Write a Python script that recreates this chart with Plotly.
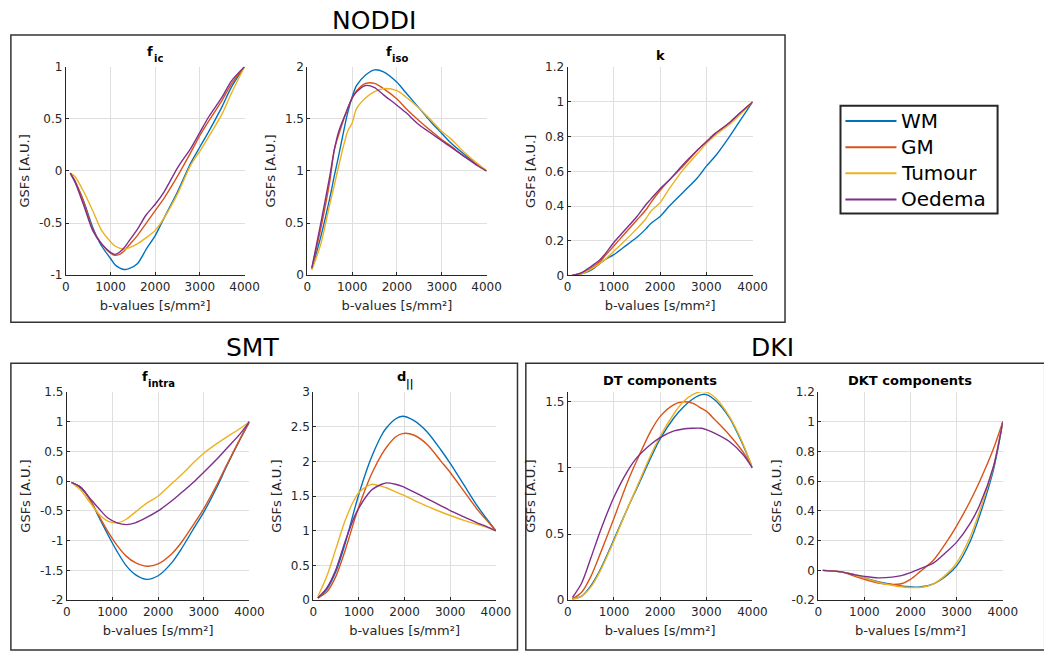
import plotly.graph_objects as go

W, H = 1044, 660
FONT = "DejaVu Sans"
TXT = "#262626"
COLORS = {"WM": "#0072BD", "GM": "#D95319", "Tumour": "#EDB120", "Oedema": "#7E2F8E"}
GROUPS = ["WM", "GM", "Tumour", "Oedema"]

# ---------------- data ----------------
b_fic = [100, 200, 400, 600, 800, 1000, 1100, 1200, 1300, 1400, 1600, 1800, 2000, 2200, 2500, 2800, 3000, 3200, 3500, 3700, 4000]
fic_wm = [-0.02, -0.1, -0.29, -0.54, -0.72, -0.84, -0.9, -0.93, -0.945, -0.94, -0.89, -0.75, -0.62, -0.45, -0.2, 0.08, 0.23, 0.38, 0.62, 0.8, 1.0]
fic_gm = [-0.02, -0.09, -0.3, -0.56, -0.7, -0.79, -0.81, -0.8, -0.77, -0.72, -0.62, -0.5, -0.38, -0.26, -0.05, 0.18, 0.34, 0.48, 0.68, 0.83, 1.0]
fic_tu = [-0.02, -0.05, -0.2, -0.38, -0.57, -0.68, -0.72, -0.74, -0.75, -0.74, -0.7, -0.64, -0.57, -0.45, -0.22, 0.06, 0.19, 0.33, 0.55, 0.74, 1.0]
fic_oe = [-0.02, -0.1, -0.33, -0.57, -0.7, -0.78, -0.8, -0.78, -0.74, -0.68, -0.56, -0.42, -0.32, -0.2, 0.03, 0.22, 0.37, 0.52, 0.71, 0.86, 1.0]

b_fiso = [100, 300, 500, 600, 700, 900, 1000, 1100, 1300, 1500, 1700, 2000, 2200, 2500, 2800, 3000, 3200, 3500, 3800, 4000]
fiso_wm = [0.06, 0.37, 0.74, 0.95, 1.15, 1.56, 1.71, 1.82, 1.92, 1.97, 1.95, 1.85, 1.75, 1.6, 1.45, 1.36, 1.27, 1.16, 1.06, 1.0]
fiso_gm = [0.07, 0.45, 0.9, 1.2, 1.35, 1.6, 1.7, 1.77, 1.84, 1.84, 1.79, 1.69, 1.6, 1.48, 1.37, 1.3, 1.24, 1.14, 1.06, 1.0]
fiso_tu = [0.05, 0.3, 0.68, 0.86, 1.05, 1.38, 1.46, 1.6, 1.7, 1.76, 1.79, 1.77, 1.71, 1.6, 1.47, 1.38, 1.31, 1.18, 1.07, 1.0]
fiso_oe = [0.07, 0.5, 0.95, 1.2, 1.38, 1.6, 1.7, 1.76, 1.82, 1.8, 1.73, 1.63, 1.56, 1.44, 1.35, 1.29, 1.23, 1.14, 1.05, 1.0]

b_k = [100, 300, 500, 700, 800, 1000, 1200, 1500, 1700, 1800, 2000, 2200, 2500, 2800, 3000, 3200, 3500, 3700, 4000]
k_wm = [0, 0.01, 0.03, 0.07, 0.09, 0.12, 0.16, 0.22, 0.27, 0.3, 0.34, 0.4, 0.48, 0.56, 0.63, 0.69, 0.8, 0.88, 1.0]
k_gm = [0, 0.015, 0.04, 0.08, 0.11, 0.17, 0.23, 0.32, 0.38, 0.42, 0.49, 0.55, 0.63, 0.72, 0.77, 0.82, 0.88, 0.93, 1.0]
k_tu = [0, 0.01, 0.035, 0.07, 0.09, 0.14, 0.19, 0.27, 0.33, 0.37, 0.42, 0.5, 0.61, 0.7, 0.76, 0.81, 0.87, 0.92, 1.0]
k_oe = [0, 0.015, 0.05, 0.09, 0.12, 0.19, 0.25, 0.34, 0.41, 0.44, 0.5, 0.55, 0.64, 0.72, 0.77, 0.82, 0.88, 0.93, 1.0]

b_fintra = [100, 300, 500, 700, 900, 1100, 1300, 1500, 1750, 2000, 2300, 2500, 2800, 3000, 3300, 3500, 3800, 4000]
fintra_wm = [-0.02, -0.11, -0.3, -0.6, -0.9, -1.18, -1.42, -1.57, -1.65, -1.59, -1.37, -1.15, -0.77, -0.52, -0.08, 0.25, 0.71, 1.0]
fintra_gm = [-0.02, -0.1, -0.3, -0.58, -0.85, -1.08, -1.26, -1.37, -1.43, -1.39, -1.22, -1.04, -0.7, -0.46, -0.04, 0.27, 0.72, 1.0]
fintra_tu = [-0.02, -0.15, -0.35, -0.55, -0.67, -0.7, -0.64, -0.52, -0.37, -0.25, -0.04, 0.1, 0.33, 0.47, 0.64, 0.74, 0.89, 1.0]
fintra_oe = [-0.02, -0.1, -0.28, -0.46, -0.62, -0.7, -0.73, -0.7, -0.61, -0.5, -0.33, -0.2, 0.0, 0.15, 0.38, 0.55, 0.8, 1.0]

b_dpar = [100, 300, 500, 700, 900, 1000, 1200, 1300, 1500, 1600, 1800, 1950, 2200, 2500, 2800, 3000, 3300, 3600, 3800, 4000]
dpar_wm = [0.03, 0.16, 0.42, 0.82, 1.3, 1.53, 1.93, 2.1, 2.38, 2.48, 2.61, 2.65, 2.59, 2.42, 2.16, 1.97, 1.66, 1.35, 1.17, 1.0]
dpar_gm = [0.03, 0.12, 0.35, 0.72, 1.15, 1.35, 1.7, 1.85, 2.1, 2.2, 2.35, 2.4, 2.38, 2.24, 2.0, 1.84, 1.57, 1.3, 1.15, 1.0]
dpar_tu = [0.05, 0.35, 0.75, 1.15, 1.45, 1.55, 1.65, 1.67, 1.64, 1.62, 1.56, 1.52, 1.44, 1.35, 1.27, 1.22, 1.15, 1.09, 1.05, 1.0]
dpar_oe = [0.03, 0.18, 0.45, 0.85, 1.2, 1.33, 1.53, 1.6, 1.67, 1.69, 1.67, 1.64, 1.56, 1.46, 1.36, 1.29, 1.2, 1.11, 1.06, 1.0]

b_dt = [100, 300, 500, 700, 1000, 1300, 1500, 1800, 2000, 2300, 2500, 2700, 2900, 3000, 3200, 3500, 3800, 4000]
dt_wm = [0.01, 0.03, 0.11, 0.23, 0.46, 0.7, 0.85, 1.08, 1.22, 1.38, 1.46, 1.52, 1.555, 1.555, 1.51, 1.38, 1.17, 1.0]
dt_gm = [0.01, 0.06, 0.18, 0.35, 0.62, 0.9, 1.06, 1.28, 1.39, 1.48, 1.5, 1.49, 1.45, 1.43, 1.36, 1.25, 1.12, 1.0]
dt_tu = [0.005, 0.03, 0.1, 0.22, 0.45, 0.7, 0.86, 1.1, 1.24, 1.41, 1.5, 1.555, 1.578, 1.575, 1.53, 1.39, 1.18, 1.0]
dt_oe = [0.02, 0.13, 0.32, 0.52, 0.78, 0.98, 1.08, 1.18, 1.23, 1.28, 1.295, 1.3, 1.3, 1.29, 1.26, 1.2, 1.1, 1.0]

b_dkt = [100, 500, 800, 1000, 1300, 1600, 1800, 2000, 2200, 2500, 2800, 3000, 3300, 3500, 3800, 4000]
dkt_wm = [0, -0.01, -0.03, -0.05, -0.075, -0.095, -0.105, -0.11, -0.112, -0.09, -0.03, 0.03, 0.2, 0.37, 0.68, 1.0]
dkt_gm = [0, -0.01, -0.04, -0.06, -0.085, -0.095, -0.09, -0.06, -0.01, 0.07, 0.2, 0.3, 0.47, 0.6, 0.82, 1.0]
dkt_tu = [0, -0.01, -0.03, -0.05, -0.08, -0.1, -0.11, -0.115, -0.115, -0.09, -0.02, 0.05, 0.23, 0.4, 0.7, 1.0]
dkt_oe = [0, -0.01, -0.03, -0.04, -0.05, -0.045, -0.035, -0.015, 0.01, 0.05, 0.13, 0.19, 0.32, 0.44, 0.7, 1.0]

x_ticks = [0, 1000, 2000, 3000, 4000]

# ---------------- layout helpers ----------------
def px_x(x):
    return x / W

def px_y(y):
    return 1 - y / H

# (b, series, title main, title subscript, x0, x1, ytop, ybot, yrange, yticks)
panels = [
    (b_fic, [fic_wm, fic_gm, fic_tu, fic_oe], "f", "ic", 63, 245, 61, 274, [-1, 1], [-1, -0.5, 0, 0.5, 1]),
    (b_fiso, [fiso_wm, fiso_gm, fiso_tu, fiso_oe], "f", "iso", 309, 491.5, 61, 274, [0, 2], [0, 0.5, 1, 1.5, 2]),
    (b_k, [k_wm, k_gm, k_tu, k_oe], "k", None, 574, 762.5, 61.5, 274.3, [0, 1.2], [0, 0.2, 0.4, 0.6, 0.8, 1, 1.2]),
    (b_fintra, [fintra_wm, fintra_gm, fintra_tu, fintra_oe], "f", "intra", 64, 250, 393.3, 606, [-2, 1.5], [-2, -1.5, -1, -0.5, 0, 0.5, 1, 1.5]),
    (b_dpar, [dpar_wm, dpar_gm, dpar_tu, dpar_oe], "d", "||", 315, 501, 393.3, 606, [0, 3], [0, 0.5, 1, 1.5, 2, 2.5, 3]),
    (b_dt, [dt_wm, dt_gm, dt_tu, dt_oe], "DT components", None, 574.3, 762.3, 393.3, 606, [0, 1.575], [0, 0.5, 1, 1.5]),
    (b_dkt, [dkt_wm, dkt_gm, dkt_tu, dkt_oe], "DKT components", None, 829.3, 1017.3, 393.3, 606, [-0.2, 1.2], [-0.2, 0, 0.2, 0.4, 0.6, 0.8, 1, 1.2]),
]

# approximate advance widths (em) of DejaVu Sans Bold glyphs, used to centre split titles
BOLD_EM = {"f": 0.435, "d": 0.716, "i": 0.343, "c": 0.593, "s": 0.595, "o": 0.687,
           "n": 0.712, "t": 0.478, "r": 0.493, "a": 0.675, "|": 0.366}
MAIN_FS, SUB_FS = 13, 10

def text_w(s, fs):
    return sum(BOLD_EM.get(ch, 0.6) for ch in s) * fs

def fmt(v):
    return "%g" % v

fig = go.Figure()
annotations = []
shapes = []
layout_axes = {}

for i, (b, series, tmain, tsub, x0, x1, yt, yb, yr, yticks) in enumerate(panels):
    n = "" if i == 0 else str(i + 1)
    xa, ya = "x" + n, "y" + n
    for g, ys in zip(GROUPS, series):
        fig.add_trace(go.Scatter(
            x=b, y=ys, mode="lines", name=g, legendgroup=g,
            showlegend=False, xaxis=xa, yaxis=ya,
            line=dict(color=COLORS[g], width=1.4, shape="spline", smoothing=0.8),
            hoverinfo="skip"))
    common = dict(showline=True, linecolor=TXT, linewidth=1, mirror=False,
                  showgrid=True, gridcolor="#dfdfdf", gridwidth=1,
                  ticks="inside", ticklen=3, tickcolor=TXT, zeroline=False,
                  tickfont=dict(family=FONT, size=12, color=TXT))
    layout_axes["xaxis" + n] = dict(
        common, domain=[px_x(x0), px_x(x1)], anchor=ya, range=[0, 4000],
        tickvals=x_ticks, ticktext=[str(t) for t in x_ticks],
        title=dict(text="b-values [s/mm²]", font=dict(family=FONT, size=13, color=TXT), standoff=8))
    layout_axes["yaxis" + n] = dict(
        common, domain=[px_y(yb), px_y(yt)], anchor=xa, range=yr,
        tickvals=yticks, ticktext=[fmt(t) for t in yticks],
        title=dict(text="GSFs [A.U.]", font=dict(family=FONT, size=13, color=TXT), standoff=6))
    cx = (x0 + x1) / 2
    if tsub is None:
        annotations.append(dict(
            text="<b>%s</b>" % tmain, x=px_x(cx), y=px_y(yt - 2), xref="paper", yref="paper",
            xanchor="center", yanchor="bottom", showarrow=False,
            font=dict(family=FONT, size=MAIN_FS, color="#000000")))
    else:
        wm, ws = text_w(tmain, MAIN_FS), text_w(tsub, SUB_FS)
        split = cx - (wm + ws) / 2 + wm
        annotations.append(dict(
            text="<b>%s</b>" % tmain, x=px_x(split), y=px_y(yt - 16), xref="paper", yref="paper",
            xanchor="right", yanchor="middle", showarrow=False,
            borderpad=0, borderwidth=0,
            font=dict(family=FONT, size=MAIN_FS, color="#000000")))
        annotations.append(dict(
            text="<b>%s</b>" % tsub, x=px_x(split), y=px_y(yt - 8.5), xref="paper", yref="paper",
            xanchor="left", yanchor="middle", showarrow=False,
            borderpad=0, borderwidth=0, xshift=0.5,
            font=dict(family=FONT, size=SUB_FS, color="#000000")))

# section titles
for txt, cx, cy in [("NODDI", 377, 14), ("SMT", 253, 348), ("DKI", 783, 348)]:
    annotations.append(dict(text=txt, x=px_x(cx), y=px_y(cy), xref="paper", yref="paper",
                            xanchor="center", yanchor="middle", showarrow=False,
                            font=dict(family=FONT, size=25, color="#000000")))

# frames around groups
for (x0, y0, x1, y1) in [(7, 28.5, 795.5, 322), (7, 364, 523, 657), (531.5, 364, 1060, 657)]:
    shapes.append(dict(type="rect", xref="paper", yref="paper",
                       x0=px_x(x0), x1=px_x(x1), y0=px_y(y1), y1=px_y(y0),
                       line=dict(color="#333333", width=1.5), fillcolor="rgba(0,0,0,0)", layer="below"))

# legend box (drawn like the MATLAB legend)
leg_x0, leg_x1, leg_y0, leg_y1 = 852, 1012, 101, 211
shapes.append(dict(type="rect", xref="paper", yref="paper",
                   x0=px_x(leg_x0), x1=px_x(leg_x1), y0=px_y(leg_y1), y1=px_y(leg_y0),
                   line=dict(color="#262626", width=2), fillcolor="white"))
for j, g in enumerate(GROUPS):
    yy = 116.5 + j * 26.7
    shapes.append(dict(type="line", xref="paper", yref="paper",
                       x0=px_x(857), x1=px_x(909), y0=px_y(yy), y1=px_y(yy),
                       line=dict(color=COLORS[g], width=2)))
    annotations.append(dict(text=g, x=px_x(912), y=px_y(yy), xref="paper", yref="paper",
                            xanchor="left", yanchor="middle", showarrow=False,
                            font=dict(family=FONT, size=20, color="#000000")))

fig.update_layout(
    width=W, height=H, margin=dict(l=0, r=0, t=0, b=0),
    paper_bgcolor="white", plot_bgcolor="white",
    font=dict(family=FONT, color=TXT),
    showlegend=False,
    annotations=annotations, shapes=shapes,
    **layout_axes)

fig.write_html("out.html")
